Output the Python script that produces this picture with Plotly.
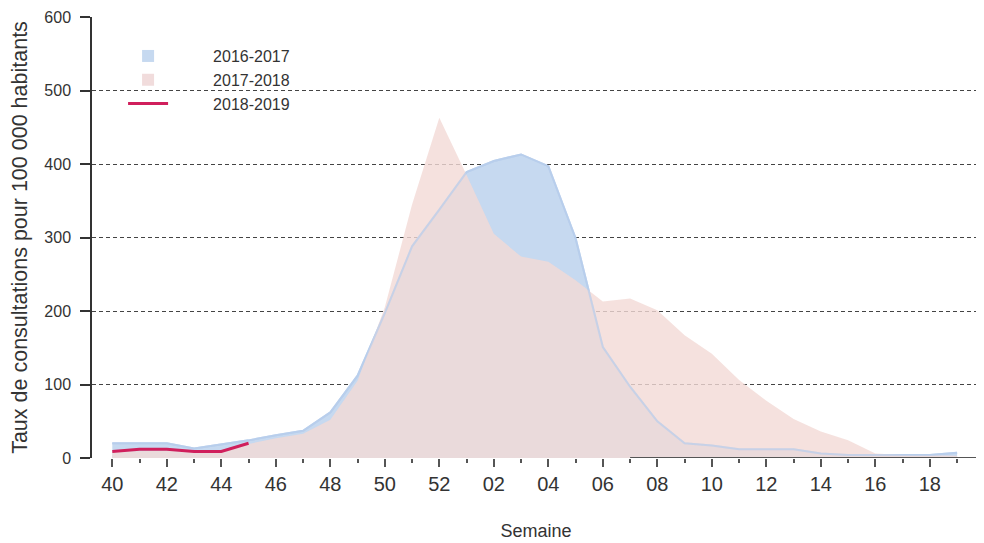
import plotly.graph_objects as go

weeks = ["40", "41", "42", "43", "44", "45", "46", "47", "48", "49", "50", "51", "52",
         "01", "02", "03", "04", "05", "06", "07", "08", "09", "10", "11", "12", "13",
         "14", "15", "16", "17", "18", "19"]

s2016_2017 = [20, 20, 20, 13, 18, 24, 31, 37, 62, 112, 197, 288, 338,
              389, 404, 413, 397, 299, 151, 97, 50, 20, 17, 12, 12, 12,
              6, 4, 4, 4, 4, 7]

s2017_2018 = [9, 10, 10, 8, 9, 19, 27, 33, 52, 105, 205, 345, 463,
              385, 305, 274, 267, 242, 213, 217, 201, 167, 142, 106, 78, 53,
              36, 24, 6, 4, 3, 3]

s2018_2019 = [9, 12, 12, 9, 9, 20]

labels = ["2016-2017", "2017-2018", "2018-2019"]
y_ticks = [0, 100, 200, 300, 400, 500, 600]

BLUE_FILL = "#c6d9f0"
BLUE_LINE = "#b6cdeb"
PINK_FILL = "rgba(243,217,214,0.8)"
PINK_LEG = "#f1dcdc"
RED = "#d01f5c"
TXT = "#333333"
FONT = "Liberation Sans, Arial, sans-serif"
PAD = "\u00a0" * 9

fig = go.Figure()

# legend-only items
fig.add_trace(go.Scatter(x=[None], y=[None], mode="markers", name=PAD + labels[0],
                         marker=dict(symbol="square", size=12, color=BLUE_FILL)))
fig.add_trace(go.Scatter(x=[None], y=[None], mode="markers", name=PAD + labels[1],
                         marker=dict(symbol="square", size=12, color=PINK_LEG)))

# areas
fig.add_trace(go.Scatter(x=weeks, y=s2016_2017, mode="lines", fill="tozeroy",
                         fillcolor=BLUE_FILL, line=dict(color=BLUE_LINE, width=2),
                         showlegend=False, hoverinfo="skip"))
fig.add_trace(go.Scatter(x=weeks, y=s2017_2018, mode="lines", fill="tozeroy",
                         fillcolor=PINK_FILL, line=dict(width=0, color="rgba(0,0,0,0)"),
                         showlegend=False, hoverinfo="skip"))
fig.add_trace(go.Scatter(x=weeks, y=s2016_2017, mode="lines",
                         line=dict(color="rgba(185,207,236,0.7)", width=2),
                         showlegend=False, hoverinfo="skip"))
# current season
fig.add_trace(go.Scatter(x=weeks[:len(s2018_2019)], y=s2018_2019, mode="lines",
                         name=PAD + labels[2], line=dict(color=RED, width=3)))
# dummy trace for minor ticks axis
fig.add_trace(go.Scatter(x=weeks, y=[None] * len(weeks), xaxis="x2", mode="lines",
                         showlegend=False, hoverinfo="skip"))

n = len(weeks)
fig.update_layout(
    width=976, height=535,
    margin=dict(l=84, r=4, t=9, b=85),
    paper_bgcolor="white", plot_bgcolor="white",
    font=dict(family=FONT, color=TXT),
    showlegend=True,
    legend=dict(x=0.035, y=0.95, xanchor="left", yanchor="top",
                bgcolor="rgba(0,0,0,0)", font=dict(size=16, color=TXT),
                itemwidth=40, tracegroupgap=0),
    xaxis=dict(type="category", categoryorder="array", categoryarray=weeks,
               range=[-0.745, n - 1 + 0.84], automargin=False,
               tickmode="array", tickvals=weeks[::2], ticktext=weeks[::2],
               ticks="outside", ticklen=8, tickwidth=2, tickcolor="#555555",
               tickfont=dict(size=20, color=TXT),
               showline=False, showgrid=False, zeroline=False,
               title=dict(text="Semaine", font=dict(size=18, color=TXT), standoff=30)),
    xaxis2=dict(type="category", categoryorder="array", categoryarray=weeks,
                overlaying="x", matches="x", anchor="y", side="bottom", automargin=False,
                tickmode="array", tickvals=weeks[1::2],
                ticks="outside", ticklen=4, tickwidth=2, tickcolor="#555555",
                showticklabels=False, showline=False, showgrid=False, zeroline=False),
    yaxis=dict(range=[0, 600], tickmode="array", tickvals=y_ticks, automargin=False,
               ticks="outside", ticklen=10, tickwidth=2, tickcolor=TXT,
               tickfont=dict(size=16, color=TXT), ticklabelstandoff=6,
               showline=True, linecolor=TXT, linewidth=1.5,
               showgrid=True, gridcolor="#444444", gridwidth=1.3, griddash="4px,3px",
               zeroline=False,
               title=dict(text="Taux de consultations pour 100 000 habitants",
                          font=dict(size=21.5, color=TXT), standoff=12)),
    shapes=[dict(type="line", xref="x", yref="y", x0=weeks[0], x1=weeks[-1],
                 y0=0, y1=0, line=dict(color="#555555", width=2), layer="above")],
)

fig.write_html("out.html")
